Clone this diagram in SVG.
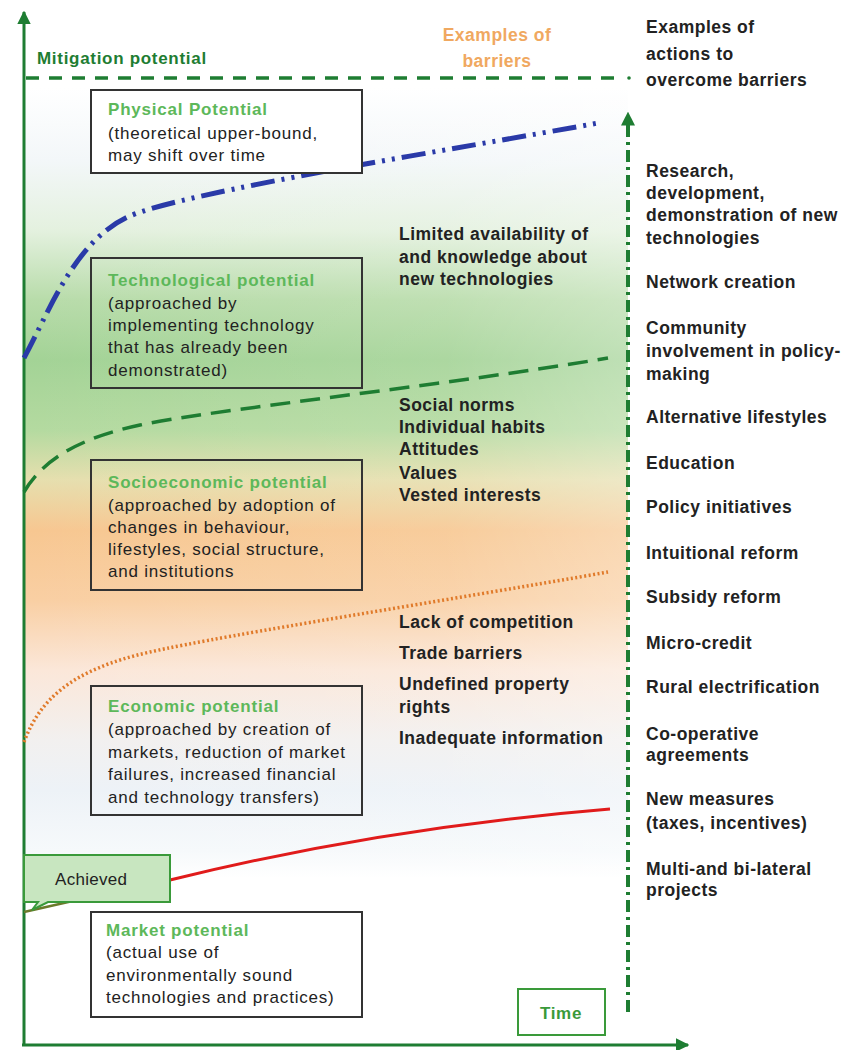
<svg xmlns="http://www.w3.org/2000/svg" width="849" height="1050" viewBox="0 0 849 1050">
<defs>
<linearGradient id="bg" x1="0" y1="0" x2="0" y2="1">
<stop offset="0" stop-color="#ffffff"/>
<stop offset="0.091" stop-color="#f3f7f9"/>
<stop offset="0.18" stop-color="#e4f1df"/>
<stop offset="0.268" stop-color="#b8dcaa"/>
<stop offset="0.344" stop-color="#a3d396"/>
<stop offset="0.433" stop-color="#b4daa0"/>
<stop offset="0.496" stop-color="#e6dfae"/>
<stop offset="0.56" stop-color="#f7c791"/>
<stop offset="0.648" stop-color="#f9cfa3"/>
<stop offset="0.737" stop-color="#fbe7d9"/>
<stop offset="0.825" stop-color="#f2f0ef"/>
<stop offset="0.889" stop-color="#edf2f7"/>
<stop offset="0.965" stop-color="#f6f9fb"/>
<stop offset="1" stop-color="#ffffff"/>
</linearGradient>
<linearGradient id="fade" x1="0" y1="0" x2="1" y2="0">
<stop offset="0" stop-color="#ffffff" stop-opacity="0"/>
<stop offset="0.7" stop-color="#ffffff" stop-opacity="0.1"/>
<stop offset="1" stop-color="#ffffff" stop-opacity="0.3"/>
</linearGradient>
<marker id="ah" viewBox="0 0 10 10" refX="9" refY="5" markerWidth="4.5" markerHeight="4.5" orient="auto" markerUnits="strokeWidth">
<path d="M0,0 L10,5 L0,10 Z" fill="#1e7d32"/>
</marker>
<marker id="ah2" viewBox="0 0 10 10" refX="9" refY="5" markerWidth="3.5" markerHeight="3.5" orient="auto" markerUnits="strokeWidth">
<path d="M0,0 L10,5 L0,10 Z" fill="#1e7d32"/>
</marker>
<style>
text{font-family:"Liberation Sans",Arial,sans-serif;font-size:17px;letter-spacing:0.8px;fill:#222}
.b{font-weight:bold;letter-spacing:0.5px;font-size:17.5px}
.t{font-weight:bold;fill:#5db85a}
.g{font-weight:bold;fill:#1e7d32;letter-spacing:0.7px}
.box{fill:none;stroke:#333;stroke-width:2}
.axis{stroke:#1e7d32;stroke-width:3;fill:none}
</style>
</defs>

<g id="background">
<rect x="24" y="88" width="604" height="790" fill="url(#bg)"/>
<rect x="24" y="88" width="604" height="790" fill="url(#fade)"/>
</g>

<g id="connectors">
<line class="axis" x1="24" y1="1046" x2="24" y2="12" marker-end="url(#ah)"/>
<line class="axis" x1="22" y1="1045" x2="688" y2="1045" marker-end="url(#ah)"/>
<line x1="26" y1="78" x2="616" y2="78" stroke="#1e7d32" stroke-width="3.5" stroke-dasharray="13 10"/>
<circle cx="629" cy="78" r="1.8" fill="#1e7d32"/>
<line x1="628" y1="1012" x2="628" y2="113" stroke="#1e7d32" stroke-width="4" stroke-dasharray="12 5 3 5" marker-end="url(#ah2)"/>
<path d="M24 358 C50 310 75 240 130 216 S450 150 598 123" fill="none" stroke="#2a3aa8" stroke-width="5" stroke-dasharray="24 7 3 7 3 7"/>
<path d="M24 492 C40 465 70 440 140 425 S450 385 608 358" fill="none" stroke="#1e7d32" stroke-width="3.5" stroke-dasharray="20 10"/>
<path d="M24 742 C40 700 70 670 150 652 S450 600 608 572" fill="none" stroke="#e07a2a" stroke-width="3.5" stroke-dasharray="2 2.5"/>
<path d="M170 880 Q380 828 610 809" fill="none" stroke="#e01b1b" stroke-width="3"/>
<path d="M24 912 L86 898" fill="none" stroke="#6a7a2a" stroke-width="2.5"/>
</g>

<g id="labels">
<text class="g" x="37" y="64">Mitigation potential</text>
<text class="b" x="497" y="41" text-anchor="middle" style="fill:#f0a860">Examples of</text>
<text class="b" x="497" y="67" text-anchor="middle" style="fill:#f0a860">barriers</text>
<text class="b" x="646" y="33">Examples of</text>
<text class="b" x="646" y="60">actions to</text>
<text class="b" x="646" y="86">overcome barriers</text>
</g>

<g id="physical">
<rect class="box" x="91" y="90" width="271" height="83" style="fill:#ffffff"/>
<text class="t" x="108" y="115">Physical Potential</text>
<text x="108" y="139">(theoretical upper-bound,</text>
<text x="108" y="161">may shift over time</text>
</g>

<g id="technological">
<rect class="box" x="91" y="258" width="271" height="130"/>
<text class="t" x="108" y="286">Technological potential</text>
<text x="108" y="309">(approached by</text>
<text x="108" y="331">implementing technology</text>
<text x="108" y="353">that has already been</text>
<text x="108" y="376">demonstrated)</text>
</g>

<g id="socioeconomic">
<rect class="box" x="91" y="460" width="271" height="130"/>
<text class="t" x="108" y="488">Socioeconomic potential</text>
<text x="108" y="511">(approached by adoption of</text>
<text x="108" y="533">changes in behaviour,</text>
<text x="108" y="555">lifestyles, social structure,</text>
<text x="108" y="577">and institutions</text>
</g>

<g id="economic">
<rect class="box" x="91" y="686" width="271" height="129"/>
<text class="t" x="108" y="712">Economic potential</text>
<text x="108" y="735">(approached by creation of</text>
<text x="108" y="758">markets, reduction of market</text>
<text x="108" y="780">failures, increased financial</text>
<text x="108" y="803">and technology transfers)</text>
</g>

<g id="achieved">
<path d="M24 855 H170 V902 H48 L32 910 L38 902 H24 Z" fill="#c8e6c0" stroke="#3a9a3a" stroke-width="2"/>
<text x="55" y="885" style="letter-spacing:0.3px">Achieved</text>
</g>

<g id="market">
<rect class="box" x="91" y="912" width="271" height="105" style="fill:#ffffff"/>
<text class="t" x="106" y="936">Market potential</text>
<text x="106" y="958">(actual use of</text>
<text x="106" y="981">environmentally sound</text>
<text x="106" y="1003">technologies and practices)</text>
</g>

<g id="time">
<rect x="518" y="989" width="87" height="46" fill="#ffffff" stroke="#3a9a3a" stroke-width="2"/>
<text class="g" x="561" y="1019" text-anchor="middle" style="fill:#3a9a3a">Time</text>
</g>

<g id="barriers">
<text class="b" x="399" y="240">Limited availability of</text>
<text class="b" x="399" y="263">and knowledge about</text>
<text class="b" x="399" y="285">new technologies</text>
<text class="b" x="399" y="411">Social norms</text>
<text class="b" x="399" y="433">Individual habits</text>
<text class="b" x="399" y="455">Attitudes</text>
<text class="b" x="399" y="479">Values</text>
<text class="b" x="399" y="501">Vested interests</text>
<text class="b" x="399" y="628">Lack of competition</text>
<text class="b" x="399" y="659">Trade barriers</text>
<text class="b" x="399" y="690">Undefined property</text>
<text class="b" x="399" y="713">rights</text>
<text class="b" x="399" y="744">Inadequate information</text>
</g>

<g id="actions">
<text class="b" x="646" y="177">Research,</text>
<text class="b" x="646" y="199">development,</text>
<text class="b" x="646" y="221">demonstration of new</text>
<text class="b" x="646" y="244">technologies</text>
<text class="b" x="646" y="288">Network creation</text>
<text class="b" x="646" y="334">Community</text>
<text class="b" x="646" y="357">involvement in policy-</text>
<text class="b" x="646" y="380">making</text>
<text class="b" x="646" y="423">Alternative lifestyles</text>
<text class="b" x="646" y="469">Education</text>
<text class="b" x="646" y="513">Policy initiatives</text>
<text class="b" x="646" y="559">Intuitional reform</text>
<text class="b" x="646" y="603">Subsidy reform</text>
<text class="b" x="646" y="649">Micro-credit</text>
<text class="b" x="646" y="693">Rural electrification</text>
<text class="b" x="646" y="740">Co-operative</text>
<text class="b" x="646" y="761">agreements</text>
<text class="b" x="646" y="805">New measures</text>
<text class="b" x="646" y="829">(taxes, incentives)</text>
<text class="b" x="646" y="875">Multi-and bi-lateral</text>
<text class="b" x="646" y="896">projects</text>
</g>
</svg>
